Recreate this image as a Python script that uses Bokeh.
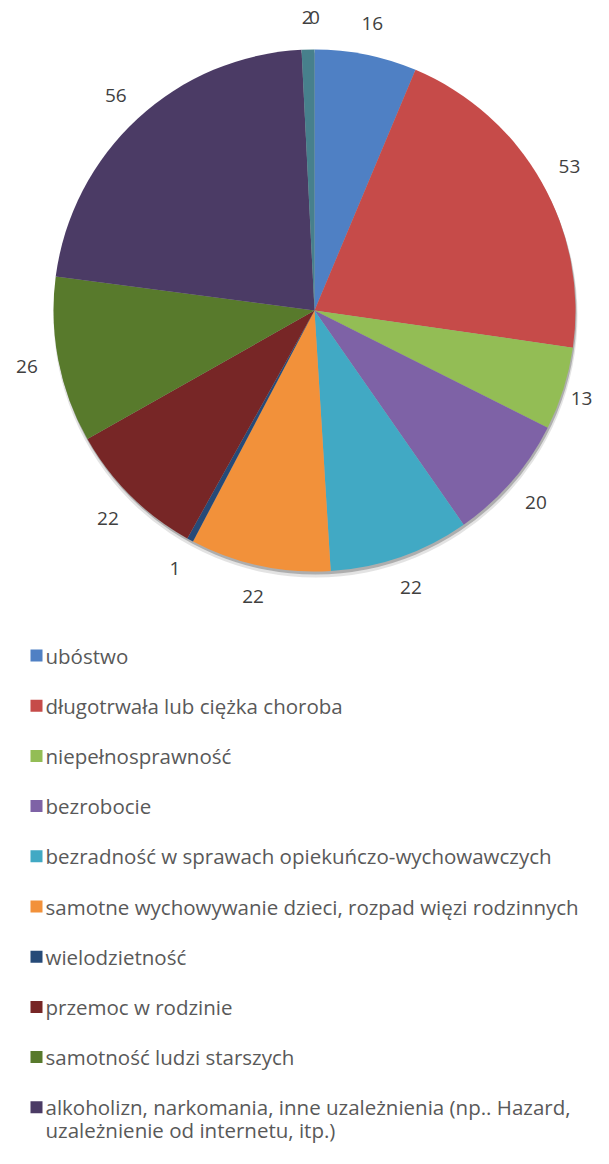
import math
from bokeh.plotting import figure
from bokeh.models import Range1d, ColumnDataSource
from bokeh.core.properties import value
from bokeh.embed import file_html
from bokeh.resources import INLINE

categories = [
    "ubóstwo",
    "długotrwała lub ciężka choroba",
    "niepełnosprawność",
    "bezrobocie",
    "bezradność w sprawach opiekuńczo-wychowawczych",
    "samotne wychowywanie dzieci, rozpad więzi rodzinnych",
    "wielodzietność",
    "przemoc w rodzinie",
    "samotność ludzi starszych",
    "alkoholizn, narkomania, inne uzależnienia (np.. Hazard,\nuzależnienie od internetu, itp.)",
    "",
    "",
]
values = [16, 53, 13, 20, 22, 22, 1, 22, 26, 56, 2, 0]
colors = ["#4F80C4", "#C64B49", "#93BD55", "#7E62A6", "#41A9C4", "#F2913A",
          "#264A78", "#772626", "#587A2C", "#4B3B65", "#47808C", "#9A9A9A"]
legend_count = 10

W, H = 593, 1148
p = figure(width=W, height=H, output_backend="svg", toolbar_location=None,
           x_range=Range1d(0, W), y_range=Range1d(0, H), min_border=0)
p.axis.visible = False
p.grid.visible = False
p.outline_line_color = None
p.background_fill_color = "white"

cx, cy = 314, H - 310
R = 261
total = sum(values)
starts, ends, mids = [], [], []
cum = 0
for v in values:
    a0 = math.pi / 2 - 2 * math.pi * cum / total
    cum += v
    a1 = math.pi / 2 - 2 * math.pi * cum / total
    starts.append(a0)
    ends.append(a1)
    mids.append((a0 + a1) / 2)

# shadow
p.circle(x=[cx + 1], y=[cy - 5], radius=R + 1, radius_units="screen",
         fill_color="#D0D0D0", fill_alpha=0.6, line_color=None)
p.circle(x=[cx + 1], y=[cy - 3], radius=R, radius_units="screen",
         fill_color="#8A8A8A", fill_alpha=0.6, line_color=None)

keep = [i for i, v in enumerate(values) if v > 0]
src = ColumnDataSource(dict(start=[starts[i] for i in keep],
                            end=[ends[i] for i in keep],
                            color=[colors[i] for i in keep]))
p.wedge(x=cx, y=cy, radius=R, radius_units="screen", start_angle="start",
        end_angle="end", direction="clock", fill_color="color",
        line_color=None, source=src)

LR = 293
lx = [cx + LR * math.cos(m) for m in mids]
ly = [cy + LR * math.sin(m) for m in mids]
lx = [min(x, W - 12) for x in lx]
p.text(x=lx, y=ly, text=[str(v) for v in values], text_align="center",
       text_baseline="middle", text_font=value("Open Sans"),
       text_font_size="19px", text_color="#404040")

# legend
row0 = H - 655
step = 50.2
leg_y = [row0 - i * step for i in range(legend_count)]
p.rect(x=[36] * legend_count, y=leg_y, width=12, height=12,
       width_units="screen", height_units="screen",
       fill_color=colors[:legend_count], line_color=None)
first_lines = [c.split("\n")[0] for c in categories[:legend_count]]
p.text(x=[45] * legend_count, y=leg_y, text=first_lines, text_align="left",
       text_baseline="middle", text_font=value("Open Sans"),
       text_font_size="20.5px", text_color="#595959")
second = [(45, leg_y[i] - 23, c.split("\n")[1])
          for i, c in enumerate(categories[:legend_count]) if "\n" in c]
p.text(x=[s[0] for s in second], y=[s[1] for s in second],
       text=[s[2] for s in second], text_align="left",
       text_baseline="middle", text_font=value("Open Sans"),
       text_font_size="20.5px", text_color="#595959")

open("out.html", "w").write(file_html(p, INLINE))
